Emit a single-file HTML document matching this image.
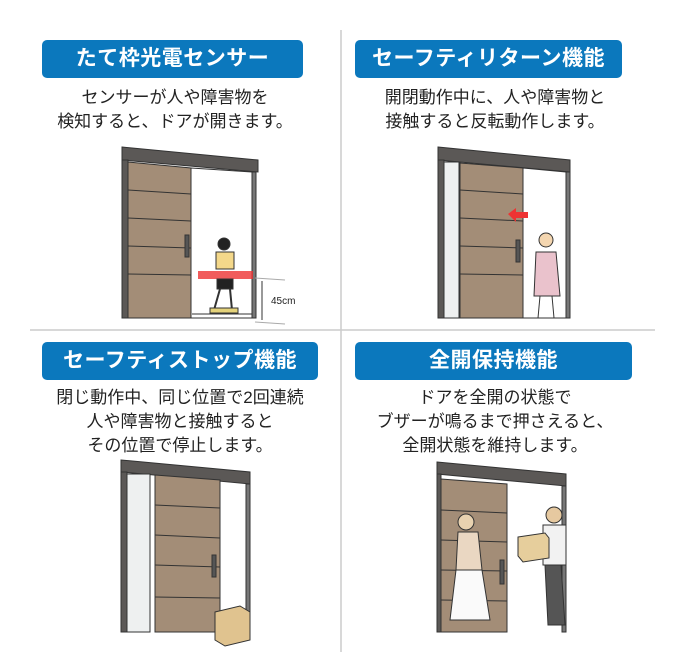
<!DOCTYPE html>
<html><head><meta charset="utf-8"><style>
body{margin:0;background:#fff;width:681px;height:663px;position:relative;overflow:hidden;font-family:"Liberation Sans","Noto Sans CJK JP",sans-serif}
.b{position:absolute;background:#0b78bd;color:#fff;font-weight:bold;font-size:21px;text-align:center;border-radius:5px;height:38px;line-height:38px;letter-spacing:0.5px}
.t{position:absolute;text-align:center;font-size:17px;line-height:24px;color:#222}
svg{position:absolute;left:0;top:0}
</style></head><body>
<svg width="681" height="663">
<line x1="341" y1="30" x2="341" y2="652" stroke="#ccc" stroke-width="1.5"/>
<line x1="30" y1="330" x2="655" y2="330" stroke="#ccc" stroke-width="1.5"/>
<g stroke="#333" stroke-width="1">
<!-- TL door -->
<polygon points="122,147 258,160 258,172 122,160" fill="#5b5856"/>
<rect x="122" y="160" width="6" height="158" fill="#5b5856"/>
<polygon points="128,162 191,168 191,318 128,318" fill="#a38d77"/>
<path d="M128,190L191,194M128,218L191,221M128,246L191,248M128,274L191,275" fill="none"/>
<rect x="185" y="235" width="4" height="22" fill="#555"/>
<polygon points="191,168 252,172 252,318 191,318" fill="#fff"/>
<rect x="252" y="172" width="4" height="146" fill="#777"/>
<line x1="192" y1="314" x2="252" y2="314"/>
<line x1="255" y1="278" x2="285" y2="280" stroke="#aaa"/>
<line x1="255" y1="322" x2="285" y2="324" stroke="#aaa"/>
<line x1="262" y1="281" x2="262" y2="320"/>
<rect x="198" y="271" width="55" height="8" fill="#e33" stroke="none" opacity="0.8"/>
<circle cx="224" cy="244" r="6" fill="#222"/>
<rect x="216" y="252" width="18" height="17" fill="#f4d88a"/>
<rect x="217" y="279" width="16" height="10" fill="#222"/>
<path d="M220,289L214,310M230,289L232,310" stroke-width="2"/>
<rect x="210" y="308" width="28" height="5" fill="#e4d27a"/>
<!-- TR door -->
<polygon points="438,147 570,160 570,172 438,160" fill="#5b5856"/>
<rect x="438" y="160" width="6" height="158" fill="#5b5856"/>
<rect x="444" y="162" width="15" height="156" fill="#eef0f0"/>
<polygon points="460,163 523,168 523,318 460,318" fill="#a38d77"/>
<path d="M460,190L523,194M460,218L523,221M460,246L523,248M460,274L523,275" fill="none"/>
<rect x="516" y="240" width="4" height="22" fill="#555"/>
<polygon points="523,168 566,172 566,318 523,318" fill="#fff"/>
<rect x="566" y="172" width="4" height="146" fill="#777"/>
<polygon points="508,214 516,208 516,212 528,212 528,218 516,218 516,222" fill="#e33" stroke="none"/>
<circle cx="546" cy="240" r="7" fill="#f4d6b0"/>
<path d="M536,252L556,252L560,296L534,296Z" fill="#eac2cc"/>
<path d="M540,296L538,318M552,296L554,318"/>
<!-- BL door -->
<polygon points="121,460 250,472 250,484 121,472" fill="#5b5856"/>
<rect x="121" y="472" width="6" height="160" fill="#5b5856"/>
<rect x="127" y="474" width="23" height="158" fill="#eef0f0"/>
<polygon points="155,475 220,480 220,632 155,632" fill="#a38d77"/>
<path d="M155,505L220,508M155,535L220,538M155,565L220,567M155,597L220,598" fill="none"/>
<rect x="212" y="555" width="4" height="22" fill="#555"/>
<rect x="246" y="484" width="4" height="148" fill="#777"/>
<polygon points="215,612 240,606 250,612 250,640 225,646 215,640" fill="#e0c38f"/>
<!-- BR door -->
<polygon points="437,462 566,474 566,486 437,474" fill="#5b5856"/>
<rect x="437" y="474" width="4" height="158" fill="#5b5856"/>
<polygon points="441,479 507,484 507,632 441,632" fill="#a38d77"/>
<path d="M441,510L507,513M441,540L507,542M441,570L507,571M441,600L507,601" fill="none"/>
<rect x="500" y="560" width="4" height="24" fill="#555"/>
<rect x="562" y="486" width="4" height="146" fill="#777"/>
<circle cx="466" cy="522" r="8" fill="#e8d2b0"/>
<path d="M458,532L478,532L482,570L456,570Z" fill="#ead7c2"/>
<path d="M456,570L482,570L490,620L450,620Z" fill="#fafafa"/>
<circle cx="554" cy="515" r="8" fill="#e6c9a0"/>
<path d="M543,525L566,525L566,565L543,565Z" fill="#f2f2f2"/>
<path d="M545,565L561,565L565,625L548,625Z" fill="#555"/>
<polygon points="518,537 545,533 549,538 549,558 523,562 518,556" fill="#e6ce9c"/>
</g>
<text x="271" y="304" font-size="10" fill="#222" font-family="Liberation Sans">45cm</text>
</svg>
<div class="b" style="left:42px;top:40px;width:261px">たて枠光電センサー</div>
<div class="b" style="left:355px;top:40px;width:267px">セーフティリターン機能</div>
<div class="b" style="left:42px;top:342px;width:276px">セーフティストップ機能</div>
<div class="b" style="left:355px;top:342px;width:277px">全開保持機能</div>
<div class="t" style="left:20px;top:86px;width:310px">センサーが人や障害物を<br>検知すると、ドアが開きます。</div>
<div class="t" style="left:345px;top:86px;width:300px">開閉動作中に、人や障害物と<br>接触すると反転動作します。</div>
<div class="t" style="left:20px;top:386px;width:320px">閉じ動作中、同じ位置で2回連続<br>人や障害物と接触すると<br>その位置で停止します。</div>
<div class="t" style="left:345px;top:386px;width:300px">ドアを全開の状態で<br>ブザーが鳴るまで押さえると、<br>全開状態を維持します。</div>
</body></html>
